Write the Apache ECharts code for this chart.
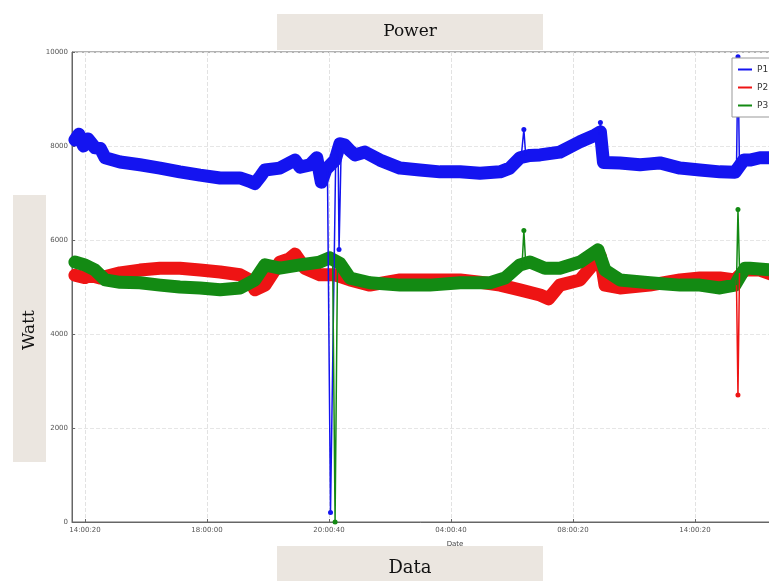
<!DOCTYPE html>
<html>
<head>
<meta charset="utf-8">
<script src="https://cdn.jsdelivr.net/npm/echarts@6/dist/echarts.min.js"></script>
<style>html,body{margin:0;padding:0;background:#fff;overflow:hidden}#c{width:769px;height:581px}</style>
</head>
<body>
<div id="c"></div>
<script>
// ---- data (x in hours after first tick, y in Watt) ----
const xTickHours = [0, 4, 8, 12, 16, 20];
const xTickLabels = ["14:00:20", "18:00:00", "20:00:40", "04:00:40", "08:00:20", "14:00:20"];
const seriesNames = ["P1", "P2", "P3"];

const phase1 = [[-0.33,8130],[-0.2,8250],[-0.05,8000],[0.1,8150],[0.33,7960],[0.5,7950],[0.66,7750],[1.15,7660],[1.8,7600],[2.46,7530],[3.11,7450],[3.77,7380],[4.43,7320],[5.08,7320],[5.4,7250],[5.57,7200],[5.75,7350],[5.9,7490],[6.39,7530],[6.89,7700],[7.05,7550],[7.38,7600],[7.6,7750],[7.75,7230],[7.9,7500],[8.2,7700],[8.36,8050],[8.52,8020],[8.69,7900],[8.85,7810],[9.18,7870],[9.67,7700],[10.33,7530],[10.98,7490],[11.64,7450],[12.3,7450],[12.95,7420],[13.61,7450],[13.93,7530],[14.26,7750],[14.59,7800],[14.92,7810],[15.57,7870],[16.23,8090],[16.72,8230],[16.9,8300],[17.0,7650],[17.54,7640],[18.2,7600],[18.52,7620],[18.85,7640],[19.51,7530],[20.16,7490],[20.82,7450],[21.31,7440],[21.6,7700],[21.8,7700],[22.13,7750],[22.6,7750]];
const phase2 = [[-0.33,5250],[0,5200],[0.16,5250],[0.49,5190],[1.15,5300],[1.8,5360],[2.46,5400],[3.11,5400],[3.77,5360],[4.43,5320],[5.08,5260],[5.4,5150],[5.57,4940],[5.9,5040],[6.39,5530],[6.7,5600],[6.89,5700],[7.21,5400],[7.7,5260],[8.2,5260],[8.69,5150],[9.34,5040],[10.33,5150],[11.31,5150],[12.3,5150],[12.95,5100],[13.61,5040],[14.26,4940],[14.92,4830],[15.2,4750],[15.57,5040],[16.23,5150],[16.72,5530],[16.9,5650],[17.05,5040],[17.54,4980],[18.52,5040],[19.51,5150],[20.16,5190],[20.82,5190],[21.31,5150],[21.64,5360],[22.13,5360],[22.6,5250]];
const phase3 = [[-0.33,5530],[0,5470],[0.33,5360],[0.66,5150],[1.15,5100],[1.8,5090],[2.46,5040],[3.11,5000],[3.77,4980],[4.43,4940],[5.08,4980],[5.57,5150],[5.9,5470],[6.39,5400],[7.05,5470],[7.7,5530],[8.03,5620],[8.36,5500],[8.69,5190],[9.34,5090],[10.33,5040],[11.31,5040],[12.3,5090],[13.28,5090],[13.77,5190],[14.26,5470],[14.59,5530],[15.08,5400],[15.57,5400],[16.23,5530],[16.82,5790],[17.05,5360],[17.54,5150],[18.52,5090],[19.51,5040],[20.16,5040],[20.82,4980],[21.31,5040],[21.64,5400],[21.8,5400],[22.6,5360]];

const phase1Spikes = [[[7.95,7450],[8.05,200],[8.23,8150]],[[8.3,7900],[8.33,5800],[8.4,7950]],[[14.3,7750],[14.39,8350],[14.45,7800]],[[16.85,8250],[16.9,8500],[16.95,8200]],[[21.36,7450],[21.41,9900],[21.46,7500]]];
const phase2Spikes = [[[21.36,5150],[21.41,2700],[21.46,5300]]];
const phase3Spikes = [[[8.12,5600],[8.2,0],[8.28,5550]],[[14.33,5450],[14.39,6200],[14.45,5500]],[[21.36,5040],[21.41,6650],[21.46,5400]]];

// ---- chart ----
const colors = ["#1414f0", "#ee1414", "#138a13"];
const chart = echarts.init(document.getElementById('c'));

function bandSeries(name, data, color) {
  return { name, type: 'line', data, showSymbol: false, symbol: 'none', z: 2,
    lineStyle: { color, width: 13, join: 'round', cap: 'round' }, itemStyle: { color } };
}
function spikeSeries(list, color) {
  return list.map(sp => ({ type: 'line', z: 2, showSymbol: true, symbol: 'none',
    data: sp.map((p, i) => i === 1 ? { value: p, symbol: 'circle', symbolSize: 5 } : { value: p }),
    lineStyle: { color, width: 1.5 }, itemStyle: { color }, silent: true }));
}

const series = [
  bandSeries(seriesNames[1], phase2, colors[1]),
  bandSeries(seriesNames[2], phase3, colors[2]),
  bandSeries(seriesNames[0], phase1, colors[0]),
  ...spikeSeries(phase1Spikes, colors[0]),
  ...spikeSeries(phase2Spikes, colors[1]),
  ...spikeSeries(phase3Spikes, colors[2])
];

const boxColor = '#ebe6e0';
chart.setOption({
  animation: false,
  backgroundColor: '#fff',
  grid: { left: 72, width: 766, top: 52, height: 470, show: true, borderColor: '#666', borderWidth: 1,
    containLabel: false, outerBoundsMode: 'none' },
  legend: {
    data: seriesNames, orient: 'vertical', left: 732, top: 58, z: 10,
    backgroundColor: '#fff', borderColor: '#999', borderWidth: 1,
    padding: [7, 40, 7, 6], itemGap: 9, itemWidth: 14, itemHeight: 2, icon: 'rect',
    textStyle: { fontSize: 9, color: '#333', fontFamily: 'DejaVu Sans' }
  },
  xAxis: {
    type: 'value', min: -0.426, max: 24.69,
    name: 'Date', nameLocation: 'middle', nameGap: 19,
    nameTextStyle: { fontSize: 7, color: '#444', fontFamily: 'DejaVu Sans' },
    axisLine: { onZero: false, lineStyle: { color: '#666' } },
    axisTick: { customValues: xTickHours, length: 3, inside: true, lineStyle: { color: '#666' } },
    axisLabel: { customValues: xTickHours, fontSize: 7, color: '#555', margin: 5, fontFamily: 'DejaVu Sans',
      formatter: v => { const i = xTickHours.indexOf(v); return i >= 0 ? xTickLabels[i] : ''; } },
    splitLine: { show: true, lineStyle: { color: '#e2e2e2', type: 'dashed' } }
  },
  yAxis: {
    type: 'value', min: 0, max: 10000, interval: 2000,
    axisLine: { show: true, onZero: false, lineStyle: { color: '#666' } },
    axisTick: { show: true, inside: true, length: 3, lineStyle: { color: '#666' } },
    axisLabel: { fontSize: 7, color: '#555', margin: 4, fontFamily: 'DejaVu Sans', formatter: v => String(v) },
    splitLine: { show: true, lineStyle: { color: '#e6e6e6', type: 'dashed' } }
  },
  series,
  graphic: [
    { type: 'rect', shape: { x: 277, y: 14, width: 266, height: 36 }, style: { fill: boxColor }, z: 0 },
    { type: 'text', x: 410, y: 32, style: { text: 'Power', fill: '#111', font: '17px "DejaVu Serif"', align: 'center', verticalAlign: 'middle' }, z: 10 },
    { type: 'rect', shape: { x: 277, y: 546, width: 266, height: 35 }, style: { fill: boxColor }, z: 0 },
    { type: 'text', x: 410, y: 568, style: { text: 'Data', fill: '#111', font: '18px "DejaVu Serif"', align: 'center', verticalAlign: 'middle' }, z: 10 },
    { type: 'rect', shape: { x: 13, y: 195, width: 33, height: 267 }, style: { fill: boxColor }, z: 0 },
    { type: 'text', x: 30, y: 330, rotation: Math.PI / 2, style: { text: 'Watt', fill: '#111', font: '17px "DejaVu Serif"', align: 'center', verticalAlign: 'middle' }, z: 10 }
  ]
});
</script>
</body>
</html>
